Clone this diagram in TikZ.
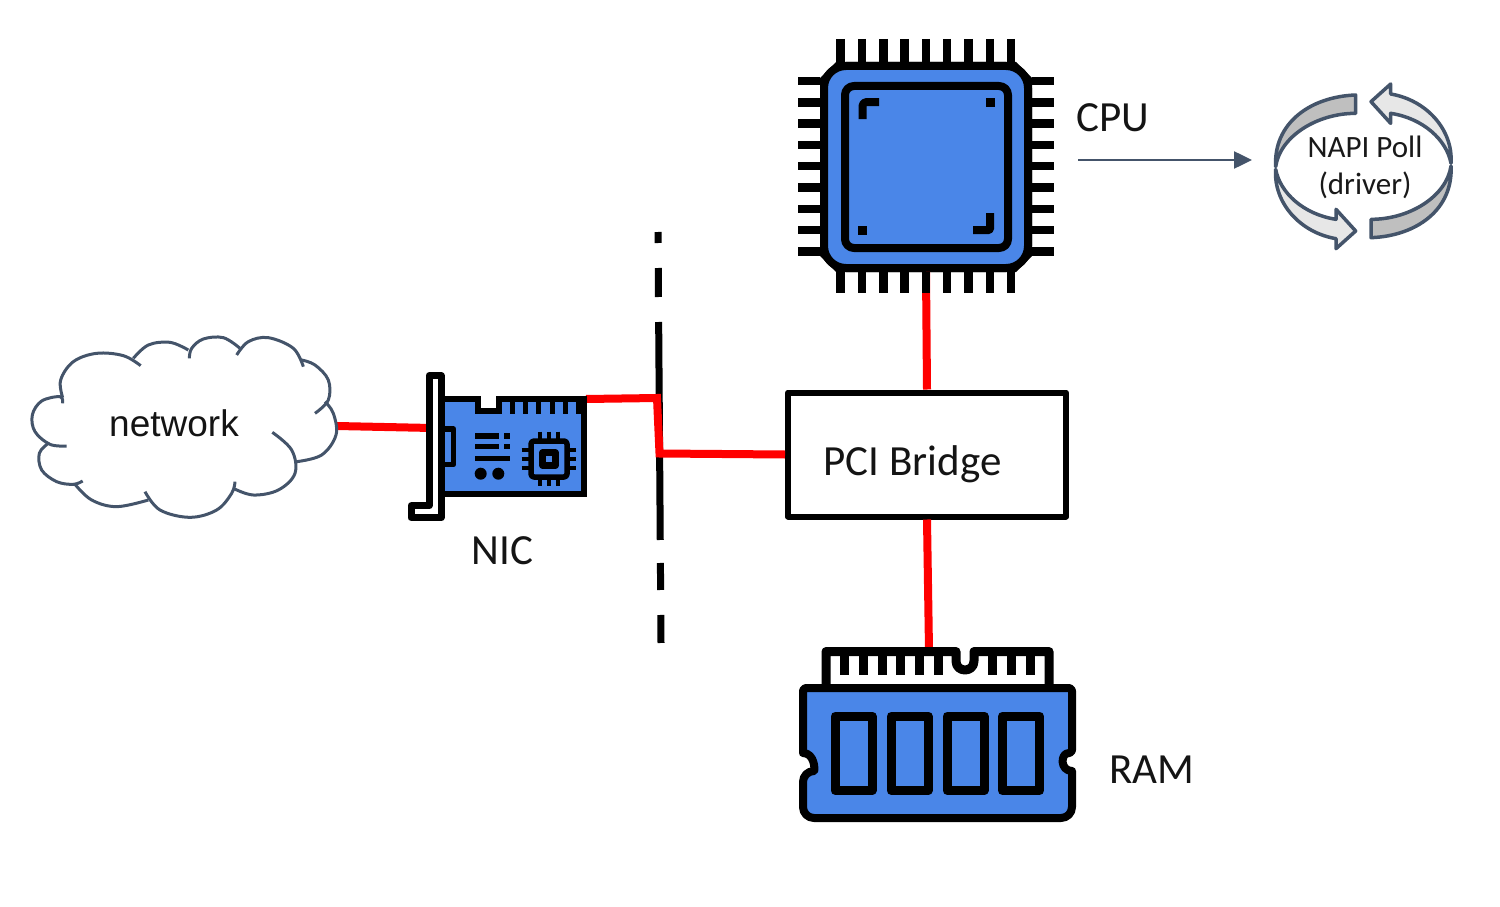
\documentclass[tikz,border=0pt]{standalone}
\usepackage{fontspec}
\setmainfont{Carlito}
\newfontfamily\netfont{Liberation Sans}
\usetikzlibrary{arrows.meta}
\definecolor{chipblue}{HTML}{4A86E8}
\definecolor{slateline}{HTML}{44546A}
\definecolor{pollgray}{HTML}{BFBFBF}
\definecolor{polllight}{HTML}{E7E7E7}
\begin{document}
\begin{tikzpicture}[x=1pt,y=-1pt,line join=round]
    \tikzstyle{blackline}=[draw=black,line width=8pt]
    \tikzstyle{chipfill}=[blackline,fill=chipblue]
    \tikzstyle{pin}=[draw=black,line width=8.5pt]
    \tikzstyle{minipin}=[draw=black,line width=4.5pt]
    \tikzstyle{link}=[draw=red,line width=8pt]
    \tikzstyle{caption}=[inner sep=0pt,text=black!92,font=\fontsize{43}{50}\selectfont]
    \tikzstyle{cloudline}=[draw=slateline,line width=3pt]
    \tikzstyle{pollarrow}=[draw=slateline,line width=3.5pt]
    \useasboundingbox (0,0) rectangle (1500,907);

    % separator
    \draw[line width=7pt,dash pattern=on 11pt off 25pt on 29pt off 25pt on 218pt off 23pt on 27pt off 25pt on 28pt] (658,232) -- (661,643);

    % cpu
    \fill (836,62) -- (1016,62) -- (1032,78) -- (1032,256) -- (1016,272) -- (836,272) -- (820,256) -- (820,78) -- cycle;
    \node[chipfill,rounded corners=22pt,minimum width=204pt,minimum height=202pt,inner sep=0pt] (cpu) at (926,167) {};
    \node[blackline,rounded corners=9pt,minimum width=163pt,minimum height=162pt,inner sep=0pt] (cpucore) at (926.5,167) {};
    \draw[blackline,rounded corners=4pt] (862.5,119) |- (879,102);
    \draw[blackline,rounded corners=1pt] (990,213) |- (973,230);
    \fill (985.5,97.5) rectangle (994.5,106.5);
    \fill (857.5,225.5) rectangle (866.5,234.5);

    % bridge and ram strip, connectors go under the pins
    \node[draw=black,line width=6pt,minimum width=278pt,minimum height=124pt,inner sep=0pt] (bridge) at (927,454.5) {};
    \node[caption] (bridgetext) at (912.5,464) {PCI Bridge};
    \coordinate (ramtop) at (929,650);
    \coordinate (cloudedge) at (337,426);
    \coordinate (nicleft) at (432,428);
    \coordinate (nicright) at (586,399);
    \draw[link] (cpu.south) -- (bridge.north);
    \draw[link] (bridge.south) -- (ramtop);
    \draw[link] (cloudedge) -- (nicleft);
    \draw[link,line join=miter] (nicright) -- (657,398) -- (659.5,453.5) -- (bridge.west);

    \foreach \i in {0,...,8} {
        \draw[pin] ({840.7+21.3*\i},39) -- ({840.7+21.3*\i},62);
        \draw[pin] ({840.7+21.3*\i},272) -- ({840.7+21.3*\i},293);
        \draw[pin] (798,{81+21.3*\i}) -- (820,{81+21.3*\i});
        \draw[pin] (1032,{81+21.3*\i}) -- (1054,{81+21.3*\i});
    }

    % ram
    \draw[blackline,line width=9pt] (826,688) -- (826,651.5) -- (956,651.5) -- (956,661)
        .. controls (956,673) and (974,673) .. (974,661) -- (974,651.5) -- (1049,651.5) -- (1049,688);
    \foreach \x in {844.7,863.3,882,900.7,919.3,938,992,1011,1030}
        \draw[draw=black,line width=9pt] (\x,651.5) -- (\x,675);
    \draw[chipfill] (900,688) [rounded corners=3pt] -- (1072,688) -- (1072,753)
        [sharp corners] .. controls (1060,753) and (1060,771) .. (1072,771)
        [rounded corners=11pt] -- (1072,818) -- (803,818) -- (803,771)
        [sharp corners] .. controls (815,771) and (815,753) .. (803,753)
        [rounded corners=3pt] -- (803,688) -- cycle;
    \foreach \x in {835,891,947,1002.5}
        \draw[draw=black,line width=9pt] (\x,716) rectangle (\x+37,790.5);

    % nic
    \draw[chipfill,line width=6pt,line join=miter] (441,399) -- (477.7,399) -- (477.7,411) -- (499.3,411) -- (499.3,399) -- (584,399) -- (584,494) -- (441,494) -- cycle;
    \foreach \x in {512.3,525.5,538.7,552,565.2,578.4}
        \draw[draw=black,line width=5pt] (\x,399) -- (\x,414);
    \draw[draw=black,line width=5.5pt] (441,429) -- (453.5,429) -- (453.5,464.5) -- (441,464.5);
    \draw[draw=black,line width=7pt,fill=white] (429.2,375.5) -- (441,375.5) -- (441,517.8) -- (411,517.8) -- (411,505.7) -- (429.2,505.7) -- cycle;
    \foreach \y in {436,446.7} {
        \draw[draw=black,line width=5.5pt] (475,\y) -- (499,\y);
        \draw[draw=black,line width=5.5pt] (504,\y) -- (510,\y);
    }
    \draw[draw=black,line width=5.5pt] (475,458.7) -- (510,458.7);
    \fill (480.7,473.7) circle (6pt) (498.3,473.7) circle (6pt);
    \draw[draw=black,line width=5.5pt,rounded corners=3pt] (531,441) rectangle (567,477);
    \draw[draw=black,line width=6.5pt] (542.5,452.5) rectangle (555.5,465.5);
    \foreach \d in {-9.2,0,9.2} {
        \draw[minipin] (549+\d,431.7) -- (549+\d,438.5);
        \draw[minipin] (549+\d,479) -- (549+\d,486);
        \draw[minipin] (521.7,459+\d) -- (528.5,459+\d);
        \draw[minipin] (569.3,459+\d) -- (575.7,459+\d);
    }

    % cloud, coordinates as in the enlarged crop
    \begin{scope}[shift={(20,325)},scale=1/3]
        \foreach \lobe in {
            {(128,235) (120,215) (65,228) (37,270) (45,320) (90,358) (140,363)},
            {(85,355) (58,385) (65,435) (110,470) (160,478) (188,468)},
            {(165,478) (215,525) (290,545) (385,525)},
            {(375,500) (420,555) (510,577) (590,555) (635,505) (645,470)},
            {(640,490) (700,510) (775,495) (825,445) (815,375) (757,322)},
            {(830,410) (905,390) (948,330) (940,265) (915,230)},
            {(885,265) (925,225) (925,165) (885,120) (845,105)},
            {(850,125) (820,70) (745,38) (685,50) (650,90)},
            {(660,70) (610,38) (550,42) (515,70) (508,100)},
            {(505,75) (450,52) (385,60) (340,100)},
            {(362,122) (310,92) (230,85) (160,110) (122,165) (128,218)}} {
            \draw[cloudline] plot[smooth,tension=0.6] coordinates \lobe;
        }
    \end{scope}
    \node[inner sep=0pt,text=black!92,font=\netfont\fontsize{37}{44}\selectfont] (network) at (174,423) {network};

    % poll arrows
    \begin{scope}[shift={(1260,80)},scale=1/3]
        \foreach \turn in {0,180} {
            \begin{scope}[rotate around={\turn:(310,259)}]
                \draw[pollarrow,fill=pollgray] (287,45) .. controls (150,50) and (40,130) .. (47,260)
                    .. controls (60,170) and (170,100) .. (287,100) -- cycle;
                \draw[pollarrow,fill=polllight] (333,65) -- (392,12) -- (392,42)
                    .. controls (500,60) and (580,150) .. (573,250)
                    .. controls (560,180) and (490,115) .. (392,100) -- (392,130) -- cycle;
            \end{scope}
        }
    \end{scope}
    \node[inner sep=0pt,align=center,text=black!90,font=\fontsize{31}{37}\selectfont] (napi) at (1365,167) {NAPI Poll\\(driver)};

    % labels
    \node[caption] (cpulabel) at (1113,118) {CPU};
    \node[caption] (niclabel) at (502.5,551) {NIC};
    \node[caption] (ramlabel) at (1151.5,770) {RAM};

    \coordinate (cpuarrow) at (1078,160);
    \coordinate (napiedge) at (1252,160);
    \draw[draw=slateline,line width=2.5pt,-{Triangle[length=18pt,width=17pt]}] (cpuarrow) -- (napiedge);
\end{tikzpicture}
\end{document}
